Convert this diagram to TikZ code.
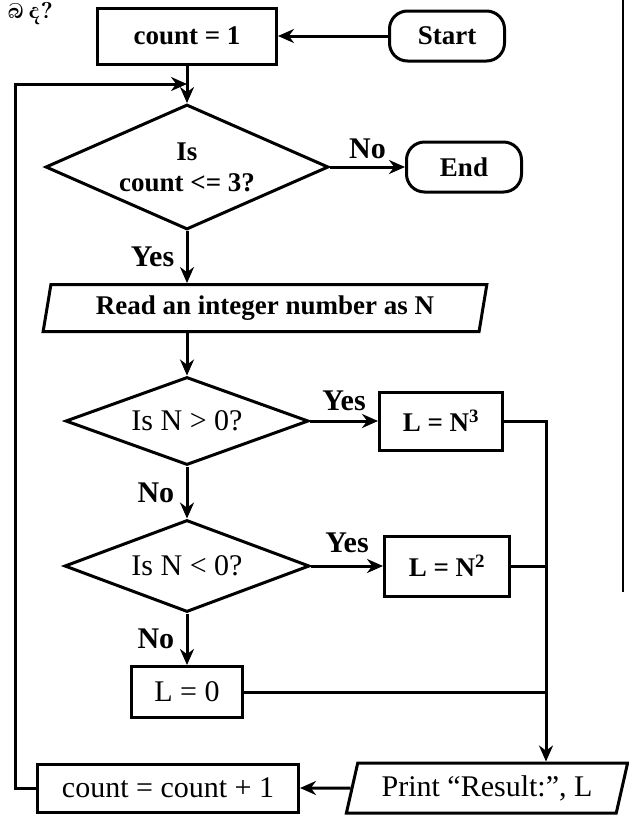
\documentclass[tikz,border=0pt]{standalone}
\usepackage{fontspec}
\setmainfont{Liberation Serif}
\newfontfamily\sinhalafont[Script=Sinhala]{Abhaya Libre}
\usetikzlibrary{shapes.geometric,arrows.meta}

\begin{document}
\begin{tikzpicture}[x=1pt,y=-1pt,line width=3pt,
  font=\fontsize{30}{34}\selectfont,
  >={Stealth[length=16pt,width=14pt]},
  bold/.style={font=\fontsize{27}{31}\selectfont\bfseries},
  proc/.style={draw,rectangle,inner sep=0pt},
  term/.style={draw,rectangle,rounded corners=18pt,inner sep=0pt,
    minimum width=115pt,minimum height=50pt,bold},
  test/.style={draw,diamond,inner sep=0pt,align=center},
  io/.style={draw,trapezium,trapezium stretches=true,inner sep=0pt},
  lbl/.style={font=\fontsize{30}{34}\selectfont\bfseries}]
\useasboundingbox (0,0) rectangle (629,831);

\node[font=\sinhalafont\fontsize{27}{30}\selectfont\bfseries,anchor=base west] (note) at (3,18) {බ ද?};
\draw[line width=2.4pt] (623,0) -- (623,592);

\node[proc,bold,minimum width=179pt,minimum height=56pt] (init) at (187,36) {count = 1};
\node[term] (start) at (447,36) {Start};
\node[test,bold,aspect=2.26,minimum width=283pt,minimum height=125pt] (ask) at (187,167) {Is\\count <= 3?};
\node[term] (stop) at (464,167) {End};
\node[io,bold,minimum width=446pt,minimum height=47pt,
  trapezium left angle=76,trapezium right angle=104] (read) at (265,308) {Read an integer number as N};
\node[test,aspect=2.76,minimum width=243pt,minimum height=88pt] (pos) at (187,421) {Is N > 0?};
\node[proc,bold,minimum width=123pt,minimum height=58pt] (cube) at (441,421) {L = N\textsuperscript{3}};
\node[test,aspect=2.66,minimum width=245pt,minimum height=92pt] (neg) at (187,566) {Is N < 0?};
\node[proc,bold,minimum width=125pt,minimum height=60pt] (square) at (447,566) {L = N\textsuperscript{2}};
\node[proc,minimum width=111pt,minimum height=51pt] (zero) at (187,692) {L = 0};
\node[io,minimum width=282pt,minimum height=50pt,
  trapezium left angle=70,trapezium right angle=110] (print) at (487,788) {Print ``Result:'', L};
\node[proc,minimum width=261pt,minimum height=48pt] (incr) at (168,788) {count = count + 1};
\coordinate (bus) at (546,0);
\coordinate (back) at (15,84);

\draw[->] (start) -- (init);
\draw[->] (init) -- (ask);
\draw[->] (ask) -- node[lbl,above=3pt] (no1) {No} (stop);
\draw[->] (ask.south) -- node[lbl,left=8pt] (yes1) {Yes} (ask.south |- read.north);
\draw[->] (read.south -| pos.north) -- (pos.north);
\draw[->] (pos) -- node[lbl,above=5pt] (yes2) {Yes} (cube);
\draw[->] (pos) -- node[lbl,left=8pt] (no2) {No} (neg);
\draw[->] (neg) -- node[lbl,above=8pt] (yes3) {Yes} (square);
\draw[->] (neg) -- node[lbl,left=8pt] (no3) {No} (zero);
\draw[->] (cube.east) -- (cube.east -| bus) -- (bus |- print.north);
\draw (square.east) -- (square.east -| bus);
\draw (zero.east) -- (zero.east -| bus);
\draw[->] (print) -- (incr);
\draw[->] (incr.west) -- (incr.west -| back) -- (back) -- (back -| init.south);
\end{tikzpicture}
\end{document}
